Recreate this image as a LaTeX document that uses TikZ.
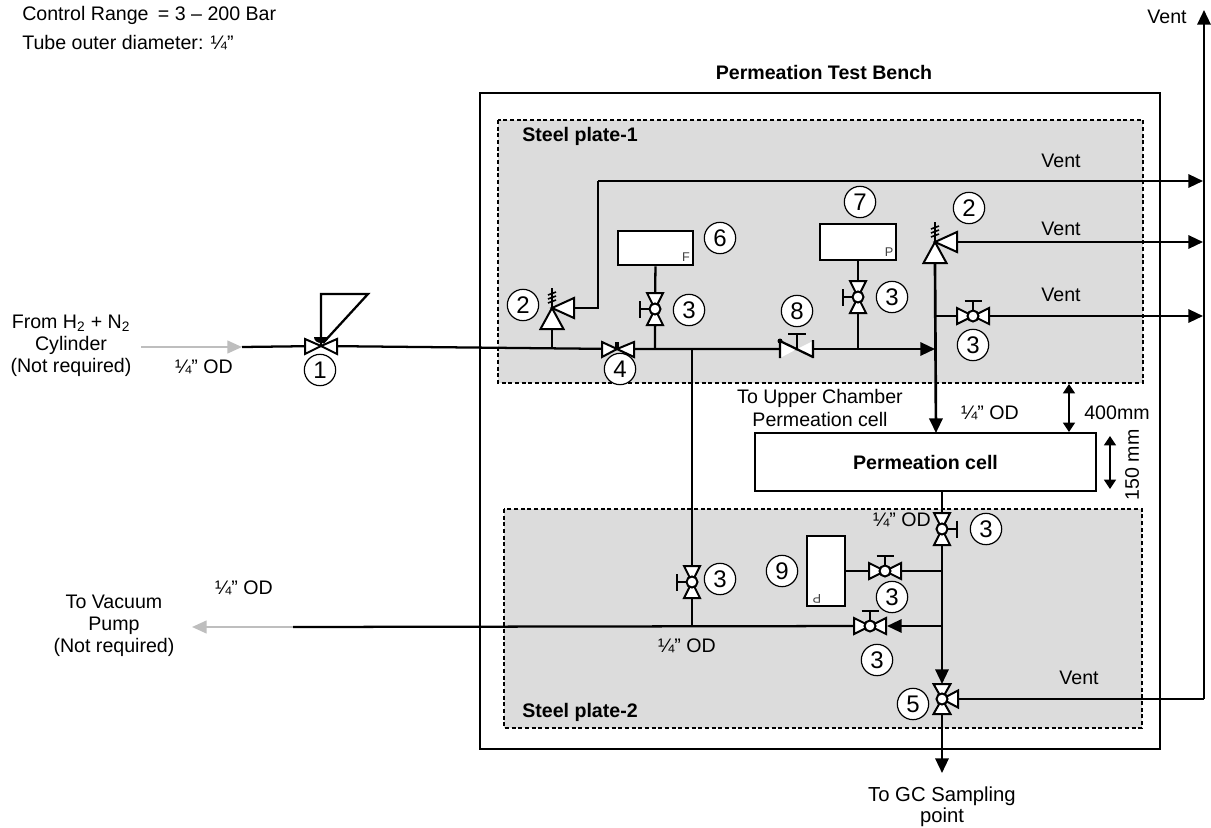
\documentclass[tikz,border=0pt]{standalone}
\usepackage{fontspec}
\setmainfont{Liberation Sans}
\usetikzlibrary{arrows.meta}
\definecolor{plategray}{HTML}{DCDCDC}
\definecolor{arrowgray}{HTML}{BEBEBE}
\tikzset{
  x=0.75pt,y=-0.75pt,
  pipe/.style={line width=1.7pt,black},
  flow/.style={pipe,-{Triangle[length=11pt,width=10pt]}},
  grayflow/.style={line width=1.7pt,arrowgray,-{Triangle[length=11pt,width=9.5pt]}},
  body/.style={draw=black,fill=white,line width=1.5pt,line join=miter},
  tag/.style={circle,draw=black,fill=white,line width=0.9pt,minimum size=23.5pt,inner sep=0pt,font=\fontsize{18}{18}\selectfont},
  lbl/.style={font=\fontsize{14.7}{16.6}\selectfont,align=center,inner sep=0pt},
  boldlbl/.style={font=\fontsize{14.7}{16.6}\selectfont\bfseries,align=center,inner sep=0pt},
  instbox/.style={rectangle,draw=black,fill=white,line width=1.7pt,inner sep=0pt},
  plate/.style={draw=black,fill=plategray,line width=1.5pt,dash pattern=on 3pt off 2pt},
  dim/.style={line width=1.2pt,{Triangle[length=7pt,width=9pt]}-{Triangle[length=7pt,width=9pt]}},
  small/.style={font=\fontsize{9.5}{10}\selectfont,inner sep=0pt,text=black!75},
}
\newcommand{\ballvalve}[3]{%
  \begin{scope}[shift={(#1,#2)},rotate=#3]
    \draw[body] (-16,-8)--(0,0)--(-16,8)--cycle;
    \draw[body] (16,-8)--(0,0)--(16,8)--cycle;
    \draw[pipe] (0,0)--(0,-15) (-8.5,-15)--(8.5,-15);
    \draw[body] (0,0) circle (5.5);
  \end{scope}}
\newcommand{\reliefvalve}[2]{%
  \begin{scope}[shift={(#1,#2)}]
    \draw[body] (0,0)--(-11.5,21)--(11.5,21)--cycle;
    \draw[body] (0,0)--(22,-10)--(22,10)--cycle;
    \draw[line width=1.2pt] (0,0)--(0,-20)
      (-4,-5)--(4,-8) (-4,-9)--(4,-12) (-4,-13)--(4,-16);
  \end{scope}}
\begin{document}
\begin{tikzpicture}
\useasboundingbox (0,0) rectangle (1211,828);
\fill[white] (0,0) rectangle (1211,828);
% frames
\draw[line width=1.7pt] (480,93) rectangle (1160,749);
\draw[plate] (498,120) rectangle (1143,383);
\draw[plate] (504,509) rectangle (1142,728);
% instruments and cell
\node[instbox,minimum width=56.5pt,minimum height=26pt] (flowbox) at (655.5,248) {};
\node[instbox,minimum width=57pt,minimum height=27pt] (pressbox) at (858,242) {};
\node[instbox,minimum width=28.5pt,minimum height=52.5pt] (pressboxb) at (826,571) {};
\node[instbox,minimum width=255.5pt,minimum height=43.5pt,boldlbl] (cell) at (925.5,462) {Permeation cell};
\node[small] (flabel) at (686,257) {F};
\node[small] (plabel) at (889,252) {P};
\node[small,rotate=180] (plabelb) at (817,599) {P};
% coordinates
\coordinate (cyl) at (141,347);
\coordinate (a) at (242,347);
\coordinate (v1) at (321,346);
\coordinate (v4) at (617,349);
\coordinate (v8) at (797,349);
\coordinate (jn) at (935,349);
\coordinate (j3) at (655,349);
\coordinate (j7) at (858,349);
\coordinate (j9) at (692,349);
\coordinate (rvl) at (552,308);
\coordinate (rvlbase) at (552,329);
\coordinate (rvlport) at (574,308);
\coordinate (rvlbend) at (598,308);
\coordinate (rvltop) at (598,181);
\coordinate (ve1) at (1203,181);
\coordinate (rvrport) at (957,242);
\coordinate (ve2) at (1203,242);
\coordinate (rvrbase) at (935,263);
\coordinate (celltop) at (936,433);
\coordinate (tee3) at (935,316);
\coordinate (v3c) at (973,316);
\coordinate (ve3) at (1203,316);
\coordinate (j9b) at (692,626);
\coordinate (cellout) at (942,491);
\coordinate (v5in) at (942,684);
\coordinate (tee9) at (942,571);
\coordinate (teevac) at (942,626);
\coordinate (vtip) at (887,626);
\coordinate (v3g) at (870,626);
\coordinate (vacgray) at (293,627);
\coordinate (vacend) at (192,627);
\coordinate (v5) at (942,699);
\coordinate (gc) at (942,773);
\coordinate (vcorner) at (1204,699);
\coordinate (vtop) at (1204,10);
% pipes
\draw[grayflow] (cyl)--(a);
\draw[pipe] (a)--(v1)--(v4)--(v8);
\draw[flow] (v8)--(jn);
\draw[pipe] (rvlbase)--(rvlbase|-v4);
\draw[pipe] (rvlport)--(rvlbend)--(rvltop);
\draw[flow] (rvltop)--(ve1);
\draw[flow] (rvrport)--(ve2);
\draw[flow] (tee3)--(ve3);
\draw[flow,line width=2pt] (rvrbase)--(celltop);
\draw[pipe] (flowbox)--(j3);
\draw[pipe] (pressbox)--(j7);
\draw[pipe] (j9)--(j9b);
\draw[flow] (cellout)--(v5in);
\draw[pipe] (pressboxb)--(tee9);
\draw[pipe] (v3g)--(vacgray);
\draw[flow] (teevac)--(vtip);
\draw[grayflow] (vacgray)--(vacend);
\draw[flow] (v5)--(gc);
\draw[pipe] (v5)--(vcorner);
\draw[flow] (vcorner)--(vtop);
% valve 1
\draw[body] (305,339)--(321,346)--(305,354)--cycle;
\draw[body] (337,339)--(321,346)--(337,354)--cycle;
\draw[pipe] (321,346)--(321,294)--(368,294)--(323,343);
\fill[black] (314,337) arc (180:0:7 and 6)--cycle;
% valve 4
\draw[body] (602,342)--(617,349)--(602,357)--cycle;
\draw[body] (634,342)--(617,349)--(634,357)--cycle;
\fill[black] (615,342) rectangle (619,349);
% valve 8
\fill[white] (780,341)--(797,349)--(780,358)--cycle (813,341)--(797,349)--(813,358)--cycle;
\draw[pipe] (780,340)--(780,358) (813,340)--(813,358) (780,341)--(813,357);
\draw[pipe] (797,349)--(797,334) (788,334)--(806,334);
\fill[black] (780,341) circle (2.5);
% other valves
\ballvalve{655}{309}{90}
\ballvalve{858}{297}{90}
\ballvalve{973}{316}{0}
\ballvalve{692}{582}{90}
\ballvalve{942}{529}{-90}
\ballvalve{885}{571}{0}
\ballvalve{870}{626}{0}
\reliefvalve{552}{308}
\reliefvalve{935}{242}
% valve 5
\begin{scope}[shift={(942,699)}]
\draw[body] (-8.5,-15)--(0,0)--(8.5,-15)--cycle;
\draw[body] (-8.5,15)--(0,0)--(8.5,15)--cycle;
\draw[body] (16,-8.5)--(0,0)--(16,8.5)--cycle;
\draw[body] (0,0) circle (5.5);
\end{scope}
% tags
\node[tag] (t1) at (320,370) {1};
\node[tag] (t2a) at (523,305) {2};
\node[tag] (t4) at (620,369) {4};
\node[tag] (t6) at (720,238) {6};
\node[tag] (t3a) at (689,310) {3};
\node[tag] (t7) at (860,202) {7};
\node[tag] (t3b) at (892,297) {3};
\node[tag] (t8) at (797,311) {8};
\node[tag] (t2b) at (969,208) {2};
\node[tag] (t3c) at (973,345) {3};
\node[tag] (t3d) at (720,579) {3};
\node[tag] (t3e) at (986,529) {3};
\node[tag] (t9) at (782,571) {9};
\node[tag] (t3f) at (892,597) {3};
\node[tag] (t3g) at (877,660) {3};
\node[tag] (t5) at (913,704) {5};
% text
\node[lbl,anchor=west] (l1) at (22,15) {Control Range\hspace{7pt}= 3 – 200 Bar};
\node[lbl,anchor=west] (l2) at (22,43) {Tube outer diameter: ¼”};
\node[boldlbl] (l3) at (824,72) {Permeation Test Bench};
\node[boldlbl,anchor=west] (l4) at (522,136) {Steel plate-1};
\node[boldlbl,anchor=west] (l5) at (522,712) {Steel plate-2};
\node[lbl] (v0) at (1167,17) {Vent};
\node[lbl] (v1t) at (1061,161) {Vent};
\node[lbl] (v2t) at (1061,229) {Vent};
\node[lbl] (v3t) at (1061,295) {Vent};
\node[lbl] (v4t) at (1079,678) {Vent};
\node[lbl] (l6) at (71,346) {From H\textsubscript{2} + N\textsubscript{2}\\Cylinder\\(Not required)};
\node[lbl] (l7) at (204,367) {¼” OD};
\node[lbl] (l8) at (244,588) {¼” OD};
\node[lbl] (l9) at (114,626) {To Vacuum\\Pump\\(Not required)};
\node[lbl] (l10) at (687,646) {¼” OD};
\node[lbl] (l11) at (820,408) {To Upper Chamber\\Permeation cell};
\node[lbl] (l12) at (990,413) {¼” OD};
\node[lbl] (l13) at (902,520) {¼” OD};
\node[lbl] (l14) at (1117,413) {400mm};
\node[lbl,rotate=90] (l15) at (1132,465) {150 mm};
\node[lbl,font=\fontsize{15.2}{16}\selectfont] (l16) at (942,807) {To GC Sampling\\point};
% dimensions
\coordinate (d1a) at (1069,384);
\coordinate (d1b) at (1069,432);
\coordinate (d2a) at (1110,436);
\coordinate (d2b) at (1110,489);
\draw[dim] (d1a)--(d1b);
\draw[dim] (d2a)--(d2b);
\end{tikzpicture}
\end{document}
